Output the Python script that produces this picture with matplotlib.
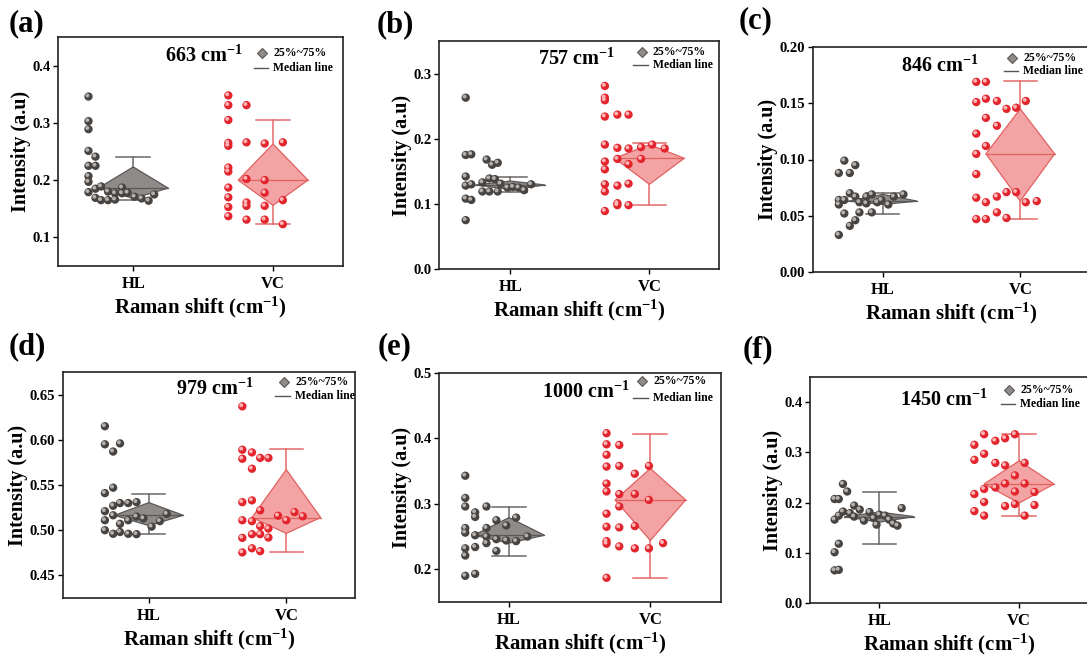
import matplotlib
matplotlib.use("Agg")
import matplotlib.pyplot as plt
from matplotlib.transforms import offset_copy

plt.rcParams['font.family'] = 'Liberation Serif'
plt.rcParams['font.weight'] = 'bold'
plt.rcParams['mathtext.fontset'] = 'custom'
plt.rcParams['mathtext.rm'] = 'Liberation Serif:bold'
plt.rcParams['mathtext.bf'] = 'Liberation Serif:bold'
plt.rcParams['mathtext.it'] = 'Liberation Serif:bold'

groups = ['HL', 'VC']
letters = ['(a)', '(b)', '(c)', '(d)', '(e)', '(f)']
peaks = ['663', '757', '846', '979', '1000', '1450']
ylims = [(0.05, 0.45), (0.0, 0.35), (0.0, 0.20), (0.425, 0.675), (0.15, 0.50), (0.0, 0.45)]
yticks = [[0.1, 0.2, 0.3, 0.4],
          [0.0, 0.1, 0.2, 0.3],
          [0.00, 0.05, 0.10, 0.15, 0.20],
          [0.45, 0.50, 0.55, 0.60, 0.65],
          [0.2, 0.3, 0.4, 0.5],
          [0.0, 0.1, 0.2, 0.3, 0.4]]
ydecimals = [1, 1, 2, 2, 1, 1]

# (a) 663 cm-1
a_hl_y = [0.346, 0.303, 0.289, 0.251, 0.241, 0.225, 0.225, 0.207, 0.197, 0.179, 0.185, 0.189, 0.169,
          0.165, 0.165, 0.166, 0.180, 0.177, 0.187, 0.177, 0.178, 0.171, 0.168, 0.164, 0.175]
a_hl_x = [-0.32, -0.32, -0.32, -0.32, -0.27, -0.32, -0.27, -0.32, -0.32, -0.32, -0.27, -0.23, -0.27,
          -0.23, -0.18, -0.13, -0.18, -0.13, -0.08, -0.08, -0.04, 0.01, 0.06, 0.11, 0.15]
a_vc_y = [0.348, 0.331, 0.305, 0.265, 0.260, 0.222, 0.215, 0.187, 0.170, 0.153, 0.137,
          0.331, 0.266, 0.202, 0.161, 0.155, 0.131,
          0.264, 0.200, 0.178, 0.155, 0.131,
          0.266, 0.165, 0.123]
a_vc_x = [-0.32, -0.32, -0.32, -0.32, -0.32, -0.32, -0.32, -0.32, -0.32, -0.32, -0.32,
          -0.19, -0.19, -0.19, -0.19, -0.19, -0.19,
          -0.06, -0.06, -0.06, -0.06, -0.06,
          0.07, 0.07, 0.07]

# (b) 757 cm-1
b_hl_y = [0.263, 0.175, 0.176, 0.168, 0.160, 0.163, 0.142, 0.128, 0.130, 0.133, 0.139, 0.138,
          0.119, 0.119, 0.119, 0.131, 0.125, 0.126, 0.125, 0.121, 0.130, 0.108, 0.106, 0.075]
b_hl_x = [-0.32, -0.32, -0.28, -0.17, -0.13, -0.09, -0.32, -0.32, -0.28, -0.20, -0.15, -0.11,
          -0.20, -0.15, -0.09, -0.07, -0.02, 0.02, 0.06, 0.10, 0.15, -0.32, -0.28, -0.32]
b_vc_y = [0.281, 0.263, 0.259, 0.234, 0.191, 0.165, 0.153, 0.130, 0.119, 0.089,
          0.237, 0.186, 0.169, 0.128, 0.101, 0.098,
          0.237, 0.185, 0.161, 0.131, 0.098,
          0.187, 0.169, 0.191, 0.185]
b_vc_x = [-0.32, -0.32, -0.32, -0.32, -0.32, -0.32, -0.32, -0.32, -0.32, -0.32,
          -0.23, -0.23, -0.23, -0.23, -0.23, -0.23,
          -0.15, -0.15, -0.15, -0.15, -0.15,
          -0.06, -0.06, 0.02, 0.11]

# (c) 846 cm-1
c_hl_y = [0.099, 0.095, 0.088, 0.088, 0.070, 0.064, 0.064, 0.060, 0.067, 0.062, 0.067, 0.069,
          0.061, 0.062, 0.064, 0.060, 0.067, 0.069, 0.052, 0.053, 0.053, 0.046, 0.041, 0.033]
c_hl_x = [-0.28, -0.20, -0.32, -0.24, -0.24, -0.32, -0.28, -0.32, -0.20, -0.17, -0.12, -0.08,
          -0.12, -0.04, -0.01, 0.04, 0.08, 0.15, -0.28, -0.17, -0.08, -0.20, -0.24, -0.32]
c_vc_y = [0.169, 0.151, 0.123, 0.105, 0.087, 0.066, 0.047,
          0.169, 0.154, 0.137, 0.112, 0.062, 0.047,
          0.152, 0.130, 0.067, 0.053,
          0.145, 0.071, 0.048,
          0.146, 0.071,
          0.152, 0.062,
          0.063]
c_vc_x = [-0.32, -0.32, -0.32, -0.32, -0.32, -0.32, -0.32,
          -0.25, -0.25, -0.25, -0.25, -0.25, -0.25,
          -0.17, -0.17, -0.17, -0.17,
          -0.10, -0.10, -0.10,
          -0.03, -0.03,
          0.04, 0.04,
          0.12]

# (d) 979 cm-1
d_hl_y = [0.615, 0.595, 0.587, 0.596, 0.541, 0.547, 0.521, 0.527, 0.530, 0.530, 0.531, 0.511, 0.5165,
          0.507, 0.511, 0.515, 0.513, 0.500, 0.496, 0.498, 0.496, 0.4956, 0.504, 0.510, 0.518]
d_hl_x = [-0.32, -0.32, -0.26, -0.21, -0.32, -0.26, -0.32, -0.26, -0.21, -0.15, -0.09, -0.32, -0.26,
          -0.21, -0.15, -0.09, -0.04, -0.32, -0.26, -0.21, -0.15, -0.09, 0.02, 0.08, 0.13]
d_vc_y = [0.637, 0.589, 0.579, 0.531, 0.511, 0.4915, 0.4754,
          0.586, 0.568, 0.533, 0.510, 0.4956, 0.480,
          0.580, 0.522, 0.5044, 0.4956, 0.4768,
          0.580, 0.5018, 0.4919,
          0.516, 0.511, 0.520, 0.5154]
d_vc_x = [-0.32, -0.32, -0.32, -0.32, -0.32, -0.32, -0.32,
          -0.25, -0.25, -0.25, -0.25, -0.25, -0.25,
          -0.19, -0.19, -0.19, -0.19, -0.19,
          -0.13, -0.13, -0.13,
          -0.06, 0.00, 0.06, 0.12]

# (e) 1000 cm-1
e_hl_y = [0.343, 0.309, 0.296, 0.287, 0.280, 0.296, 0.263, 0.256, 0.252, 0.263, 0.275, 0.267, 0.279,
          0.250, 0.246, 0.244, 0.243, 0.250, 0.232, 0.221, 0.234, 0.240, 0.228, 0.190, 0.193]
e_hl_x = [-0.31, -0.31, -0.31, -0.24, -0.24, -0.16, -0.31, -0.31, -0.24, -0.16, -0.09, -0.02, 0.05,
          -0.16, -0.09, -0.02, 0.05, 0.13, -0.31, -0.31, -0.24, -0.16, -0.09, -0.31, -0.24]
e_vc_y = [0.408, 0.391, 0.375, 0.357, 0.331, 0.319, 0.285, 0.265, 0.243, 0.239, 0.187,
          0.390, 0.358, 0.315, 0.296, 0.264, 0.235,
          0.346, 0.315, 0.266, 0.232,
          0.358, 0.306, 0.232,
          0.240]
e_vc_x = [-0.31, -0.31, -0.31, -0.31, -0.31, -0.31, -0.31, -0.31, -0.31, -0.31, -0.31,
          -0.22, -0.22, -0.22, -0.22, -0.22, -0.22,
          -0.11, -0.11, -0.11, -0.11,
          -0.01, -0.01, -0.01,
          0.09]

# (f) 1450 cm-1
f_hl_y = [0.237, 0.222, 0.207, 0.207, 0.166, 0.174, 0.182, 0.179, 0.194, 0.186, 0.164, 0.181, 0.169,
          0.176, 0.174, 0.156, 0.166, 0.158, 0.154, 0.189, 0.172, 0.118, 0.101, 0.065, 0.066]
f_hl_x = [-0.26, -0.23, -0.32, -0.29, -0.32, -0.29, -0.26, -0.21, -0.18, -0.14, -0.11, -0.07, -0.04,
          0.00, 0.04, -0.02, 0.07, 0.10, 0.13, 0.16, -0.18, -0.29, -0.32, -0.32, -0.29]
f_vc_y = [0.315, 0.285, 0.217, 0.183,
          0.336, 0.297, 0.227, 0.201, 0.174,
          0.323, 0.279, 0.230,
          0.328, 0.274, 0.238, 0.193,
          0.336, 0.254, 0.222, 0.197,
          0.279, 0.238, 0.174,
          0.221, 0.195]
f_vc_x = [-0.32, -0.32, -0.32, -0.32,
          -0.25, -0.25, -0.25, -0.25, -0.25,
          -0.17, -0.17, -0.17,
          -0.10, -0.10, -0.10, -0.10,
          -0.03, -0.03, -0.03, -0.03,
          0.04, 0.04, 0.04,
          0.11, 0.11]

# box stats: [lower whisker, Q1, median, Q3, upper whisker]
a_hl_box = [0.165, 0.168, 0.186, 0.223, 0.240]
a_vc_box = [0.123, 0.156, 0.200, 0.263, 0.305]
b_hl_box = [0.118, 0.122, 0.129, 0.135, 0.141]
b_vc_box = [0.098, 0.130, 0.170, 0.191, 0.193]
c_hl_box = [0.052, 0.060, 0.063, 0.069, 0.070]
c_vc_box = [0.047, 0.063, 0.105, 0.145, 0.170]
d_hl_box = [0.4956, 0.505, 0.5165, 0.5305, 0.540]
d_vc_box = [0.4755, 0.4965, 0.514, 0.567, 0.5897]
e_hl_box = [0.220, 0.240, 0.252, 0.279, 0.295]
e_vc_box = [0.187, 0.244, 0.306, 0.354, 0.407]
f_hl_box = [0.117, 0.161, 0.172, 0.181, 0.221]
f_vc_box = [0.173, 0.199, 0.237, 0.283, 0.336]

panels = [
    (a_hl_x, a_hl_y, a_hl_box, a_vc_x, a_vc_y, a_vc_box),
    (b_hl_x, b_hl_y, b_hl_box, b_vc_x, b_vc_y, b_vc_box),
    (c_hl_x, c_hl_y, c_hl_box, c_vc_x, c_vc_y, c_vc_box),
    (d_hl_x, d_hl_y, d_hl_box, d_vc_x, d_vc_y, d_vc_box),
    (e_hl_x, e_hl_y, e_hl_box, e_vc_x, e_vc_y, e_vc_box),
    (f_hl_x, f_hl_y, f_hl_box, f_vc_x, f_vc_y, f_vc_box),
]

# layout in pixels of the 1087x659 picture: left, right, top, bottom
W, H = 1087, 659
boxes_px = [(58, 343, 37, 266), (439, 719, 41, 269), (813, 1089, 47, 272),
            (63, 355, 372, 598), (439, 721, 373, 602), (810, 1089, 377, 603)]
xleft = [0.462, 0.488, 0.492, 0.375, 0.504, 0.504]
letter_px = [(26, 24), (395, 25), (756, 21), (27, 347), (395, 347), (758, 350)]
peak_pos = [(0.51, 0.918), (0.49, 0.92), (0.46, 0.914), (0.52, 0.924), (0.52, 0.914), (0.48, 0.897)]
legend_pos = [(0.756, 0.93, 0.866), (0.764, 0.95, 0.894), (0.762, 0.951, 0.893),
              (0.796, 0.956, 0.894), (0.759, 0.963, 0.89), (0.753, 0.941, 0.879)]

styles = {
    'HL': dict(dot='#484442', hi='#b5b0ac', fill='#8e8b89', edge='#5b5857', line='#6b6866'),
    'VC': dict(dot='#e3262e', hi='#f9b4b4', fill='#f3a3a3', edge='#e26161', line='#e46a6a'),
}

fig = plt.figure(figsize=(W / 100, H / 100), dpi=100)

for i, (hx, hy, hbox, vx, vy, vbox) in enumerate(panels):
    l, r, t, b = boxes_px[i]
    ax = fig.add_axes([l / W, 1 - b / H, (r - l) / W, (b - t) / H])
    hi_tr = offset_copy(ax.transData, fig=fig, x=-0.8, y=0.8, units='points')

    for pos, name, jx, ys, st in [(1, 'HL', hx, hy, hbox), (2, 'VC', vx, vy, vbox)]:
        s = styles[name]
        lo, q1, med, q3, hi = st
        ax.plot([pos, pos], [lo, hi], color=s['line'], lw=1.1, zorder=1)
        ax.plot([pos - 0.12, pos + 0.12], [hi, hi], color=s['line'], lw=1.1, zorder=1)
        ax.plot([pos - 0.12, pos + 0.12], [lo, lo], color=s['line'], lw=1.1, zorder=1)
        ax.fill([pos - 0.25, pos, pos + 0.25, pos], [med, q3, med, q1],
                facecolor=s['fill'], edgecolor=s['edge'], lw=0.9, zorder=2)
        ax.plot([pos - 0.25, pos + 0.25], [med, med], color=s['edge'], lw=0.9, zorder=3)
        xs = [pos + j for j in jx]
        ax.scatter(xs, ys, s=36, color=s['dot'], edgecolors='none', zorder=4)
        ax.scatter(xs, ys, s=8, color=s['hi'], edgecolors='none', zorder=5, transform=hi_tr)

    ax.set_xlim(xleft[i], 2.5)
    ax.set_ylim(*ylims[i])
    ax.set_xticks([1, 2])
    ax.set_xticklabels(groups, fontsize=12, fontweight='bold')
    ax.set_yticks(yticks[i])
    ax.set_yticklabels([f'{v:.{ydecimals[i]}f}' for v in yticks[i]], fontsize=10.5, fontweight='bold')
    ax.tick_params(direction='out', length=3.5, width=1, pad=2)
    ax.tick_params(axis='x', pad=4)
    for sp in ax.spines.values():
        sp.set_linewidth(1.2)
        sp.set_color('#222222')
    ax.set_ylabel('Intensity (a.u)', fontsize=14.5, fontweight='bold', labelpad=1)
    ax.set_xlabel(r'Raman shift (cm$^{-1}$)', fontsize=15, fontweight='bold', labelpad=2)

    px_, py_ = peak_pos[i]
    ax.text(px_, py_, peaks[i] + r' cm$^{-1}$', transform=ax.transAxes, fontsize=14.5,
            fontweight='bold', ha='center', va='center')

    tx, r1, r2 = legend_pos[i]
    ax.plot([tx - 0.04], [r1], marker='D', ms=5, color='#8e8b89', mec='#5b5857', mew=0.8,
            transform=ax.transAxes, clip_on=False)
    ax.plot([tx - 0.07, tx - 0.018], [r2, r2], color='#555555', lw=1, transform=ax.transAxes,
            clip_on=False)
    ax.text(tx, r1, '25%~75%', transform=ax.transAxes, fontsize=8.5, fontweight='bold', va='center')
    ax.text(tx, r2, 'Median line', transform=ax.transAxes, fontsize=8.5, fontweight='bold', va='center')

    lx, ly = letter_px[i]
    fig.text(lx / W, 1 - ly / H, letters[i], fontsize=22, fontweight='bold', ha='center', va='center')

fig.savefig('out.png', dpi=100)
